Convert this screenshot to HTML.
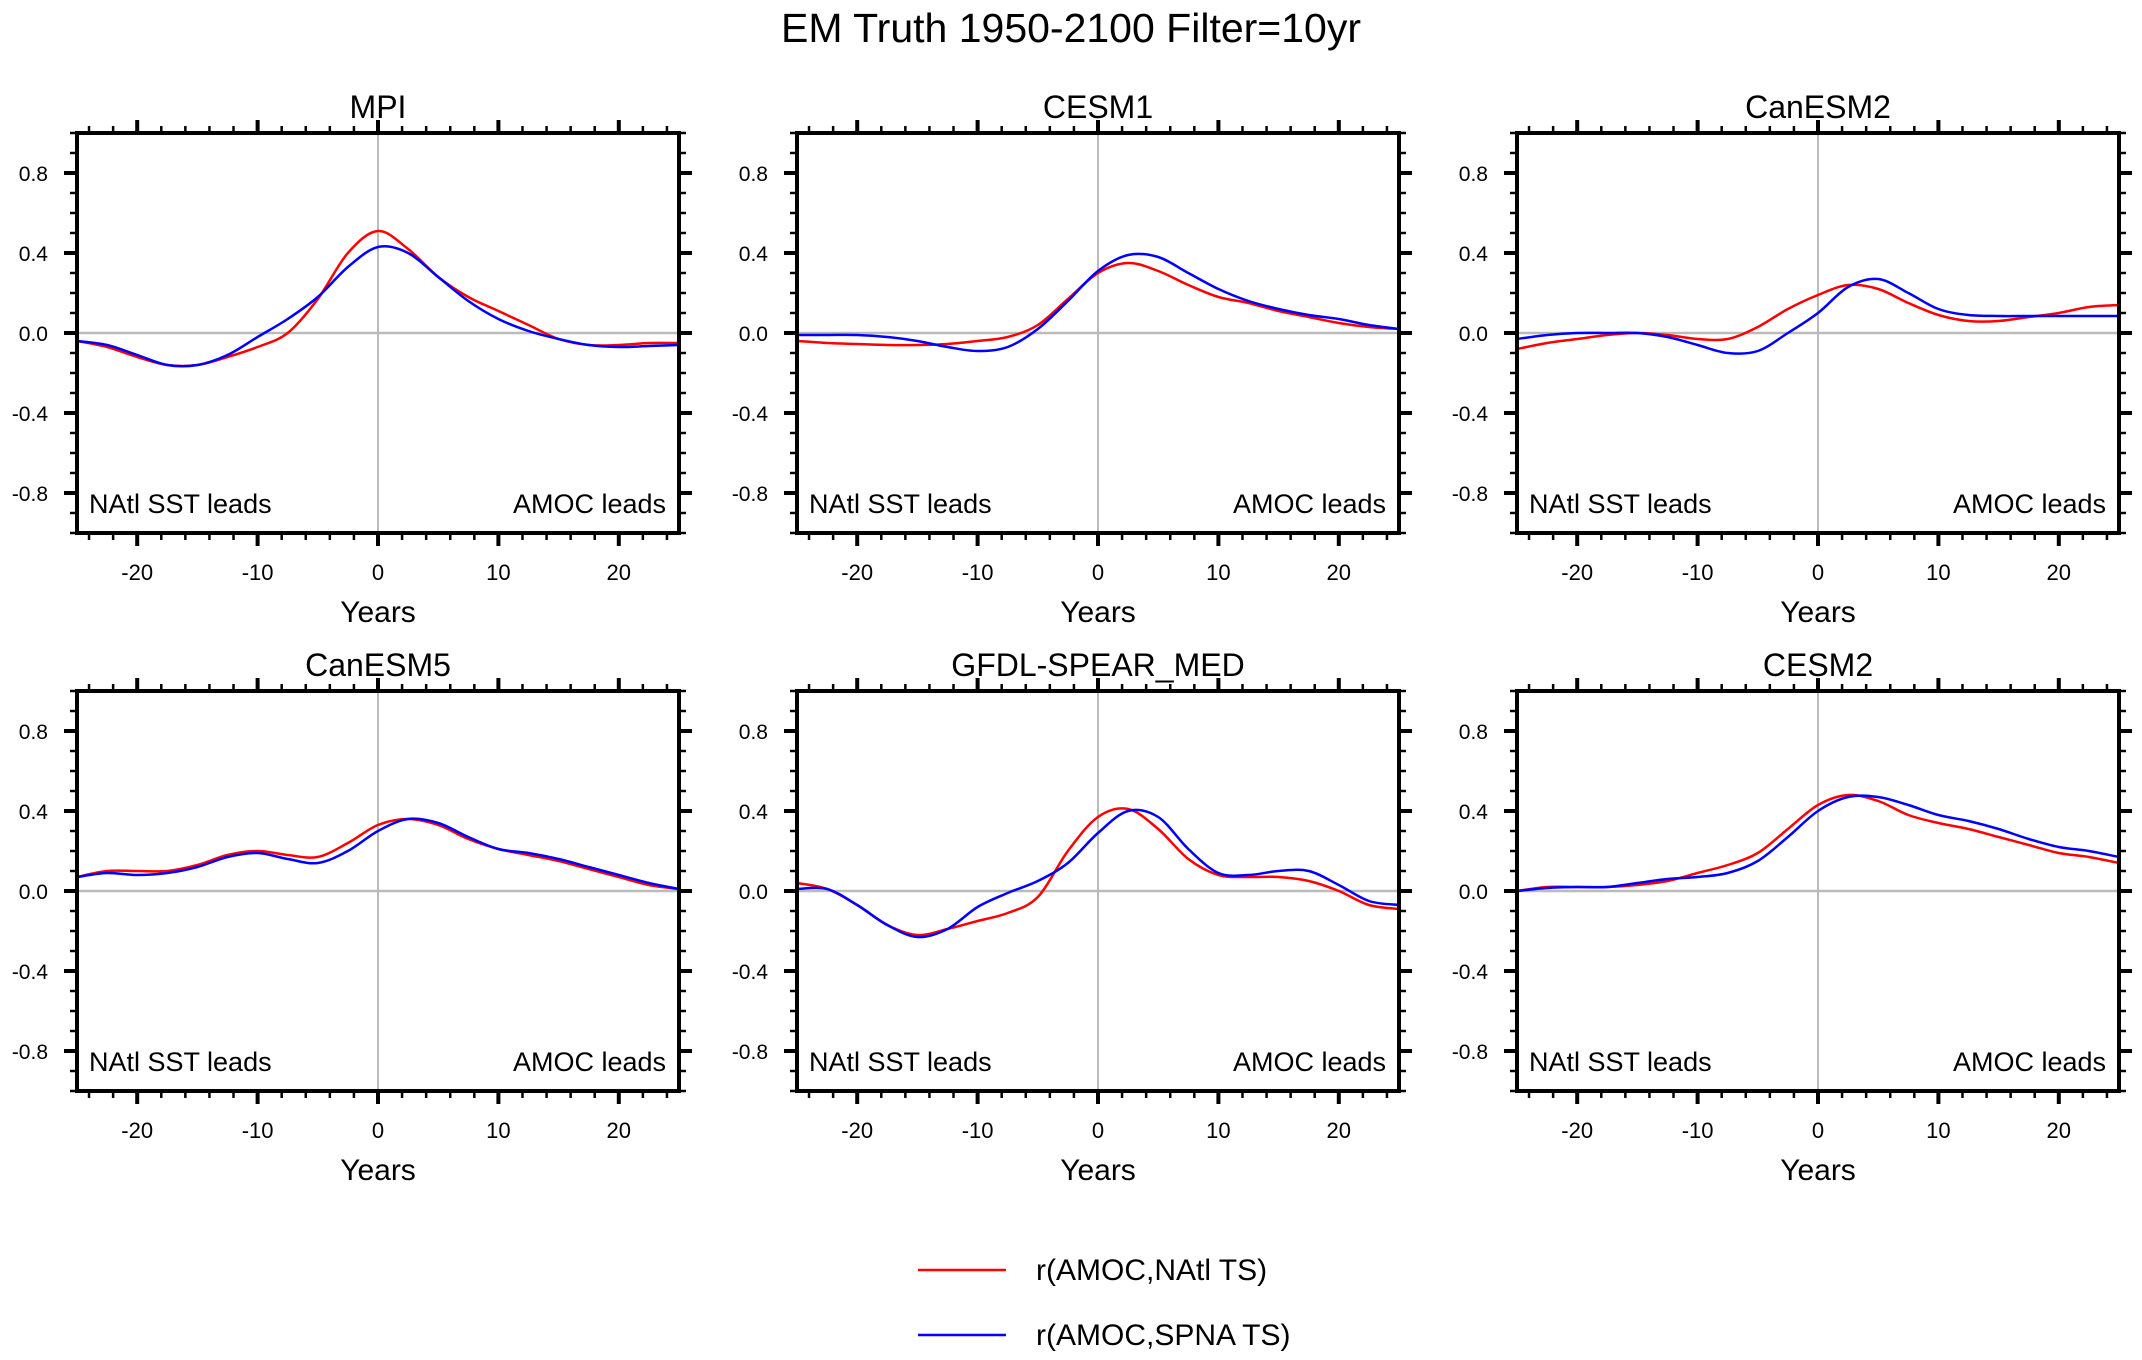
<!DOCTYPE html>
<html><head><meta charset="utf-8"><style>
html,body{margin:0;padding:0;background:#fff;}
svg{display:block;font-family:"Liberation Sans",sans-serif;}
</style></head><body>
<svg id="fig" width="2142" height="1360" viewBox="0 0 2142 1360">
<text x="1071" y="42" font-size="41" text-anchor="middle">EM Truth 1950-2100 Filter=10yr</text>
<line x1="918" y1="1270" x2="1006" y2="1270" stroke="#f00" stroke-width="2.5"/>
<text x="1036" y="1280" font-size="30">r(AMOC,NAtl TS)</text>
<line x1="918" y1="1335" x2="1006" y2="1335" stroke="#00f" stroke-width="2.5"/>
<text x="1036" y="1345" font-size="30">r(AMOC,SPNA TS)</text>
</svg>
<script>
const lags = [-25,-22.5,-20,-17.5,-15,-12.5,-10,-7.5,-5,-2.5,0,2.5,5,7.5,10,12.5,15,17.5,20,22.5,25];
const panelTitles = ["MPI","CESM1","CanESM2","CanESM5","GFDL-SPEAR_MED","CESM2"];
const xTicks = [-20,-10,0,10,20];
const xTickLabels = ["-20","-10","0","10","20"];
const yTicks = [0.8,0.4,0,-0.4,-0.8];
const yTickLabels = ["0.8","0.4","0.0","-0.4","-0.8"];
const redMPI = [-0.04,-0.07,-0.12,-0.16,-0.16,-0.12,-0.07,0.0,0.17,0.40,0.51,0.42,0.28,0.18,0.11,0.04,-0.03,-0.06,-0.06,-0.05,-0.05];
const blueMPI = [-0.04,-0.06,-0.11,-0.16,-0.16,-0.11,-0.02,0.07,0.18,0.33,0.43,0.40,0.28,0.16,0.07,0.01,-0.03,-0.06,-0.07,-0.065,-0.06];
const redCESM1 = [-0.04,-0.05,-0.055,-0.06,-0.06,-0.055,-0.04,-0.02,0.04,0.17,0.30,0.35,0.31,0.24,0.18,0.15,0.11,0.08,0.05,0.03,0.02];
const blueCESM1 = [-0.01,-0.01,-0.01,-0.02,-0.04,-0.07,-0.09,-0.07,0.02,0.16,0.31,0.39,0.38,0.30,0.22,0.16,0.12,0.09,0.07,0.04,0.02];
const redCanESM2 = [-0.08,-0.05,-0.03,-0.01,0.0,-0.01,-0.03,-0.03,0.03,0.12,0.19,0.24,0.22,0.15,0.09,0.06,0.06,0.08,0.10,0.13,0.14];
const blueCanESM2 = [-0.03,-0.01,0.0,0.0,0.0,-0.02,-0.06,-0.1,-0.09,0.0,0.1,0.23,0.27,0.20,0.12,0.09,0.085,0.085,0.085,0.085,0.085];
const redCanESM5 = [0.07,0.1,0.1,0.1,0.13,0.18,0.2,0.18,0.17,0.24,0.33,0.36,0.33,0.26,0.21,0.18,0.15,0.11,0.07,0.03,0.01];
const blueCanESM5 = [0.07,0.09,0.08,0.09,0.12,0.17,0.19,0.16,0.14,0.20,0.30,0.36,0.34,0.27,0.21,0.19,0.16,0.12,0.08,0.04,0.01];
const redGFDL = [0.04,0.01,-0.07,-0.17,-0.22,-0.19,-0.15,-0.11,-0.03,0.2,0.37,0.41,0.31,0.16,0.08,0.07,0.07,0.05,0.0,-0.07,-0.09];
const blueGFDL = [0.01,0.01,-0.07,-0.17,-0.23,-0.19,-0.08,-0.01,0.05,0.14,0.29,0.40,0.37,0.21,0.09,0.08,0.10,0.10,0.03,-0.05,-0.07];
const redCESM2 = [0.0,0.02,0.02,0.02,0.03,0.05,0.09,0.13,0.19,0.31,0.43,0.48,0.45,0.38,0.34,0.31,0.27,0.23,0.19,0.17,0.14];
const blueCESM2 = [0.0,0.015,0.02,0.02,0.04,0.06,0.07,0.09,0.15,0.27,0.40,0.47,0.47,0.43,0.38,0.35,0.31,0.26,0.22,0.20,0.17];

const reds = [redMPI,redCESM1,redCanESM2,redCanESM5,redGFDL,redCESM2];
const blues = [blueMPI,blueCESM1,blueCanESM2,blueCanESM5,blueGFDL,blueCESM2];

const svg = document.getElementById('fig');
const NS = 'http://www.w3.org/2000/svg';
function mk(tag, attrs, parent){
  const e = document.createElementNS(NS, tag);
  for (const k in attrs) e.setAttribute(k, attrs[k]);
  (parent||svg).appendChild(e);
  return e;
}
function pathFrom(pts){
  let d = 'M' + pts[0][0].toFixed(2) + ',' + pts[0][1].toFixed(2);
  for (let i=0;i<pts.length-1;i++){
    const p0 = pts[i-1]||pts[i], p1 = pts[i], p2 = pts[i+1], p3 = pts[i+2]||p2;
    const c1 = [p1[0]+(p2[0]-p0[0])/6, p1[1]+(p2[1]-p0[1])/6];
    const c2 = [p2[0]-(p3[0]-p1[0])/6, p2[1]-(p3[1]-p1[1])/6];
    d += 'C'+c1[0].toFixed(2)+','+c1[1].toFixed(2)+' '+c2[0].toFixed(2)+','+c2[1].toFixed(2)+' '+p2[0].toFixed(2)+','+p2[1].toFixed(2);
  }
  return d;
}
const colLeft = [77, 797, 1517];
const rowTop = [133, 691];
const W = 602, H = 400;
for (let p=0;p<6;p++){
  const L = colLeft[p%3], T = rowTop[Math.floor(p/3)];
  const R = L+W, B = T+H;
  const sx = v => L + (v+25)/50*W;
  const sy = v => T + (1-v)/2*H;
  const g = mk('g', {});
  
  
  const zl = mk('line',{x1:L,x2:R,y1:sy(0),y2:sy(0),stroke:'#bbb','stroke-width':2.5},g);
  
  
  const vl = mk('line',{x1:sx(0),x2:sx(0),y1:T,y2:B,stroke:'#bbb','stroke-width':2},g);
  
  
  const rp = mk('path',{d:pathFrom(lags.map((x,i)=>[sx(x),sy(reds[p][i])])),fill:'none',stroke:'#f00','stroke-width':2.5},g);
  
  
  const bp = mk('path',{d:pathFrom(lags.map((x,i)=>[sx(x),sy(blues[p][i])])),fill:'none',stroke:'#00f','stroke-width':2.5},g);
  
  
  const fr = mk('rect',{x:L,y:T,width:W,height:H,fill:'none',stroke:'#000','stroke-width':4},g);
  
  
  for (let v=-24; v<=24; v+=2){
    const major = v%10===0;
    const len = major?13:7, w = major?4:2.5;
    mk('line',{x1:sx(v),x2:sx(v),y1:B,y2:B+len,stroke:'#000','stroke-width':w},g);
    mk('line',{x1:sx(v),x2:sx(v),y1:T,y2:T-len,stroke:'#000','stroke-width':w},g);
  }
  for (let k=-10;k<=10;k++){
    const v = k/10, major = (k%4===0 && Math.abs(k)!==10) || k===0;
    const len = major?13:7, w = major?4:2.5;
    mk('line',{x1:L,x2:L-len,y1:sy(v),y2:sy(v),stroke:'#000','stroke-width':w},g);
    mk('line',{x1:R,x2:R+len,y1:sy(v),y2:sy(v),stroke:'#000','stroke-width':w},g);
  }
  xTicks.forEach((v,i)=>{
    const t = mk('text',{x:sx(v),y:B+47,'font-size':22,'text-anchor':'middle'},g);
    t.textContent = xTickLabels[i];
    
    
  });
  yTicks.forEach((v,i)=>{
    const t = mk('text',{x:L-29,y:sy(v)+8,'font-size':21,'text-anchor':'end'},g);
    t.textContent = yTickLabels[i];
    
    
  });
  const ti = mk('text',{x:L+W/2,y:T-15,'font-size':32,'text-anchor':'middle'},g);
  ti.textContent = panelTitles[p];
  
  
  const xt = mk('text',{x:L+W/2,y:B+89,'font-size':30,'text-anchor':'middle'},g);
  xt.textContent = 'Years';
  
  
  const a1 = mk('text',{x:L+12,y:B-20,'font-size':27},g);
  a1.textContent = 'NAtl SST leads';
  
  
  const a2 = mk('text',{x:R-13,y:B-20,'font-size':27,'text-anchor':'end'},g);
  a2.textContent = 'AMOC leads';
  
  
}
</script>
</body></html>
